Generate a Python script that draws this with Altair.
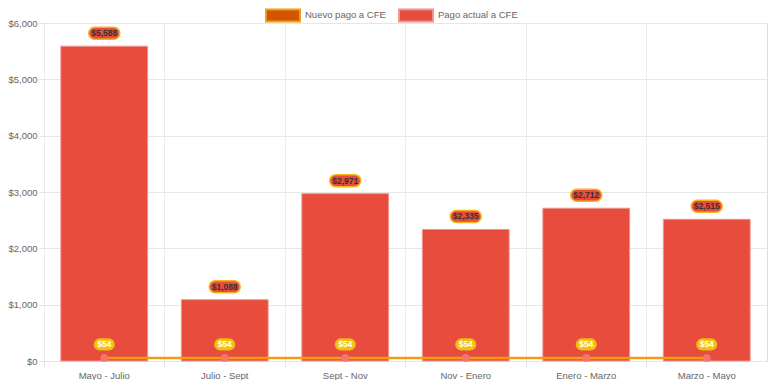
import altair as alt
import pandas as pd

periodos = ["Mayo - Julio", "Julio - Sept", "Sept - Nov", "Nov - Enero", "Enero - Marzo", "Marzo - Mayo"]
pago_actual = [5588, 1088, 2971, 2335, 2712, 2515]
nuevo_pago = [54, 54, 54, 54, 54, 54]
y_ticks = [0, 1000, 2000, 3000, 4000, 5000, 6000]

NUEVO = "Nuevo pago a CFE"
ACTUAL = "Pago actual a CFE"

df_actual = pd.DataFrame({"periodo": periodos, "valor": pago_actual, "serie": ACTUAL})
df_nuevo = pd.DataFrame({"periodo": periodos, "valor": nuevo_pago, "serie": NUEVO})

FONT = "Liberation Sans"
W, H = 723, 338

fill_scale = alt.Scale(domain=[NUEVO, ACTUAL], range=["#D35400", "#E74C3C"])
stroke_scale = alt.Scale(domain=[NUEVO, ACTUAL], range=["#F39C12", "#F1948A"])

rect_path = "M-1,-0.353H1V0.353H-1Z"
legend_kw = dict(
    title=None, orient="none", legendX=221, legendY=-26, direction="horizontal",
    symbolType=rect_path, symbolSize=1156, symbolStrokeWidth=2,
    labelFont=FONT, labelFontSize=9.5, labelColor="#666666", labelOffset=4,
    columnPadding=9, padding=0,
)

x_enc = alt.X(
    "periodo:N", sort=periodos, title=None,
    scale=alt.Scale(paddingInner=0, paddingOuter=0),
    axis=alt.Axis(
        bandPosition=0, labelAngle=0, domain=False,
        grid=True, gridColor="#ececec", tickColor="#e3e3e3", tickSize=6,
        labelFont=FONT, labelFontSize=9.5, labelColor="#666666", labelPadding=3,
    ),
)
y_enc = alt.Y(
    "valor:Q", title=None,
    scale=alt.Scale(domain=[0, 6000]),
    axis=alt.Axis(
        values=y_ticks, format="$,.0f", domain=False, grid=True,
        gridColor="#e6e6e6", tickColor="#e3e3e3", tickSize=5,
        labelFont=FONT, labelFontSize=9.5, labelColor="#666666", labelPadding=2,
    ),
)

bars = alt.Chart(df_actual).mark_bar(width=alt.RelativeBandSize(0.72), strokeWidth=1).encode(
    x=x_enc, y=y_enc,
    fill=alt.Fill("serie:N", scale=fill_scale, legend=alt.Legend(**legend_kw)),
    stroke=alt.Stroke("serie:N", scale=stroke_scale, legend=alt.Legend(**legend_kw)),
)

line = alt.Chart(df_nuevo).mark_line(strokeWidth=2.5).encode(
    x=alt.X("periodo:N", sort=periodos),
    y="valor:Q",
    stroke=alt.Stroke("serie:N", scale=stroke_scale, legend=alt.Legend(**legend_kw)),
)

points = alt.Chart(df_nuevo).mark_point(
    filled=True, shape="circle", size=60, color="#F3766A", opacity=1
).encode(x=alt.X("periodo:N", sort=periodos), y="valor:Q")

pill_big = "M-0.613,-0.387H0.613A0.387,0.387 0 0 1 0.613,0.387H-0.613A0.387,0.387 0 0 1 -0.613,-0.387Z"
pill_small = "M-0.45,-0.55H0.45A0.55,0.55 0 0 1 0.45,0.55H-0.45A0.55,0.55 0 0 1 -0.45,-0.55Z"

bar_pill = alt.Chart(df_actual).mark_point(
    shape=pill_big, size=961, filled=True, fill="#E74C3C", stroke="#F5B41A",
    strokeWidth=1.5, opacity=1, yOffset=-13,
).encode(x=alt.X("periodo:N", sort=periodos), y="valor:Q")

bar_text = alt.Chart(df_actual).mark_text(
    font=FONT, fontSize=8.5, fontWeight="bold", color="#333333", yOffset=-13, baseline="middle",
).encode(
    x=alt.X("periodo:N", sort=periodos), y="valor:Q",
    text=alt.Text("valor:Q", format="$,.0f"),
)

small_pill = alt.Chart(df_nuevo).mark_point(
    shape=pill_small, size=400, filled=True, fill="#F1C40F", stroke="#F5B41A",
    strokeWidth=1.2, opacity=1, yOffset=-13.5,
).encode(x=alt.X("periodo:N", sort=periodos), y="valor:Q")

small_text = alt.Chart(df_nuevo).mark_text(
    font=FONT, fontSize=8.5, fontWeight="bold", color="#ffffff", yOffset=-13.5, baseline="middle",
).encode(
    x=alt.X("periodo:N", sort=periodos), y="valor:Q",
    text=alt.Text("valor:Q", format="$,.0f"),
)

chart = alt.layer(bars, line, points, bar_pill, bar_text, small_pill, small_text).properties(
    width=W, height=H,
    autosize=alt.AutoSizeParams(type="none"),
    padding={"left": 36, "top": 15, "right": 1, "bottom": 19},
).configure_view(stroke="#e3e3e3").configure(background="#ffffff")

chart.save("out.html", embed_options={"renderer": "svg", "actions": False})
